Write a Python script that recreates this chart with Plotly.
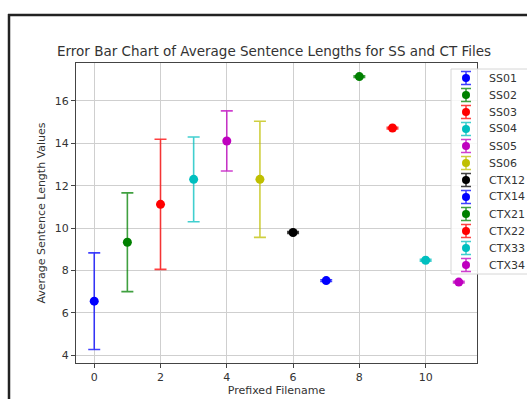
import plotly.graph_objects as go

names = ["SS01", "SS02", "SS03", "SS04", "SS05", "SS06",
         "CTX12", "CTX14", "CTX21", "CTX22", "CTX33", "CTX34"]
x_pos = [0, 1, 2, 3, 4, 5, 6, 7, 8, 9, 10, 11]
means = [6.55, 9.33, 11.12, 12.30, 14.11, 12.30, 9.79, 7.52, 17.15, 14.72, 8.48, 7.45]
errors = [2.28, 2.33, 3.07, 2.00, 1.42, 2.74, 0.04, 0.04, 0.04, 0.04, 0.04, 0.04]
colors = ["#0000ff", "#008000", "#ff0000", "#00bfbf", "#bf00bf", "#bfbf00",
          "#000000", "#0000ff", "#008000", "#ff0000", "#00bfbf", "#bf00bf"]
err_colors = ["rgba(0,0,255,0.75)", "rgba(0,128,0,0.75)", "rgba(255,0,0,0.75)",
              "rgba(0,191,191,0.75)", "rgba(191,0,191,0.75)", "rgba(191,191,0,0.75)",
              "rgba(0,0,0,0.75)", "rgba(0,0,255,0.75)", "rgba(0,128,0,0.75)",
              "rgba(255,0,0,0.75)", "rgba(0,191,191,0.75)", "rgba(191,0,191,0.75)"]
x_ticks = [0, 2, 4, 6, 8, 10]
y_ticks = [4, 6, 8, 10, 12, 14, 16]

W, H = 527, 399
# plot-area box in pixels
PL, PR, PT, PB = 76, 477, 63, 363
# legend layout in pixels
LG_L, LG_T, LG_B, LG_STEP = 451, 69, 274, 17
LG_SYM_X, LG_TXT_X, LG_FIRST = 466, 487, 78

fig = go.Figure()
for n, xv, m, e, c, ec in zip(names, x_pos, means, errors, colors, err_colors):
    fig.add_trace(go.Scatter(
        x=[xv], y=[m], mode="markers", name=n, showlegend=False,
        marker=dict(color=c, size=9),
        error_y=dict(type="data", array=[e], visible=True, color=ec,
                     thickness=1.6, width=6),
        xaxis="x", yaxis="y",
    ))

# legend box (drawn on a pixel-space overlay axis)
fig.add_trace(go.Scatter(
    x=[LG_L, 560, 560, LG_L, LG_L], y=[LG_T, LG_T, LG_B, LG_B, LG_T],
    mode="lines", fill="toself", fillcolor="rgba(255,255,255,0.82)",
    line=dict(color="#d6d6d6", width=1), showlegend=False, hoverinfo="skip",
    xaxis="x2", yaxis="y2",
))
annotations = []
for i, (n, c, ec) in enumerate(zip(names, colors, err_colors)):
    yy = LG_FIRST + LG_STEP * i
    fig.add_trace(go.Scatter(
        x=[LG_SYM_X], y=[yy], mode="markers", showlegend=False, hoverinfo="skip",
        marker=dict(color=c, size=8),
        error_y=dict(type="data", array=[6.5], visible=True, color=ec,
                     thickness=1.6, width=5),
        xaxis="x2", yaxis="y2",
    ))
    annotations.append(dict(text=n, x=LG_TXT_X / W, y=1 - yy / H, xref="paper", yref="paper",
                            xanchor="left", yanchor="middle", showarrow=False,
                            font=dict(size=11, color="#333333")))

annotations.append(dict(text="Error Bar Chart of Average Sentence Lengths for SS and CT Files",
                        x=273.5 / W, y=1 - 51 / H, xref="paper", yref="paper",
                        xanchor="center", yanchor="middle", showarrow=False,
                        font=dict(size=13.5, color="#333333")))

fig.update_layout(
    width=W, height=H,
    margin=dict(l=0, r=0, t=0, b=0, autoexpand=False),
    paper_bgcolor="white", plot_bgcolor="rgba(0,0,0,0)",
    font=dict(family="DejaVu Sans", color="#333333", size=11),
    xaxis=dict(domain=[PL / W, PR / W], anchor="y",
               range=[-0.55, 11.55], tickvals=x_ticks, showgrid=True,
               gridcolor="#cfcfcf", gridwidth=1, zeroline=False,
               showline=True, linecolor="#444444", linewidth=1, mirror=True,
               ticks="outside", ticklen=4, tickcolor="#444444",
               title=dict(text="Prefixed Filename", standoff=3, font=dict(size=11))),
    yaxis=dict(domain=[1 - PB / H, 1 - PT / H], anchor="x",
               range=[3.63, 17.79], tickvals=y_ticks, showgrid=True,
               gridcolor="#cfcfcf", gridwidth=1, zeroline=False,
               showline=True, linecolor="#444444", linewidth=1, mirror=True,
               ticks="outside", ticklen=4, tickcolor="#444444",
               title=dict(text="Average Sentence Length Values", standoff=6, font=dict(size=11))),
    xaxis2=dict(domain=[0, 1], range=[0, W], visible=False, fixedrange=True, anchor="y2"),
    yaxis2=dict(domain=[0, 1], range=[H, 0], visible=False, fixedrange=True, anchor="x2"),
    annotations=annotations,
    shapes=[
        dict(type="line", xref="paper", yref="paper",
             x0=9 / W, x1=9 / W, y0=1 - 14 / H, y1=0,
             line=dict(color="#222222", width=2.5)),
        dict(type="line", xref="paper", yref="paper",
             x0=8 / W, x1=1, y0=1 - 15 / H, y1=1 - 15 / H,
             line=dict(color="#222222", width=2.5)),
    ],
)

fig.write_html("out.html", config={"displayModeBar": False},
               post_script="document.body.style.margin='0px';")
